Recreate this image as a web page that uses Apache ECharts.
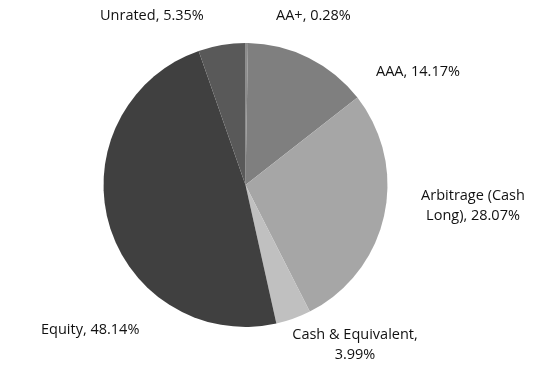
<!DOCTYPE html>
<html><head><meta charset="utf-8">
<script src="https://cdn.jsdelivr.net/npm/echarts@6/dist/echarts.min.js"></script>
<style>html,body{margin:0;padding:0;background:#fff}#c{width:542px;height:381px}</style>
</head><body><div id="c"></div>
<script>
const categories = ["AA+", "AAA", "Arbitrage (Cash Long)", "Cash & Equivalent", "Equity", "Unrated"];
const values = [0.28, 14.17, 28.07, 3.99, 48.14, 5.35];
const labelTexts = ["AA+, 0.28%", "AAA, 14.17%", "Arbitrage (Cash\nLong), 28.07%", "Cash & Equivalent,\n3.99%", "Equity, 48.14%", "Unrated, 5.35%"];
const colors = ["#8c8c8c", "#7f7f7f", "#a6a6a6", "#c0c0c0", "#404040", "#595959"];
const labelPos = [[276, 16, "left"], [376, 72, "left"], [473, 206, "center"], [355, 345, "center"], [41, 330, "left"], [100, 16, "left"]];

const chart = echarts.init(document.getElementById('c'), null, {renderer: 'canvas'});
chart.setOption({
  animation: false,
  series: [{
    type: 'pie',
    center: [245.5, 185],
    radius: [0, 142],
    startAngle: 90,
    clockwise: true,
    avoidLabelOverlap: false,
    itemStyle: {borderWidth: 0},
    label: {
      show: true,
      fontFamily: 'Open Sans',
      fontSize: 14.5,
      color: '#111',
      lineHeight: 20,
      formatter: p => labelTexts[p.dataIndex]
    },
    labelLine: {show: false},
    labelLayout: p => ({x: labelPos[p.dataIndex][0], y: labelPos[p.dataIndex][1], align: labelPos[p.dataIndex][2], verticalAlign: 'middle'}),
    data: categories.map((c, i) => ({name: c, value: values[i], itemStyle: {color: colors[i]}}))
  }]
});
</script></body></html>
